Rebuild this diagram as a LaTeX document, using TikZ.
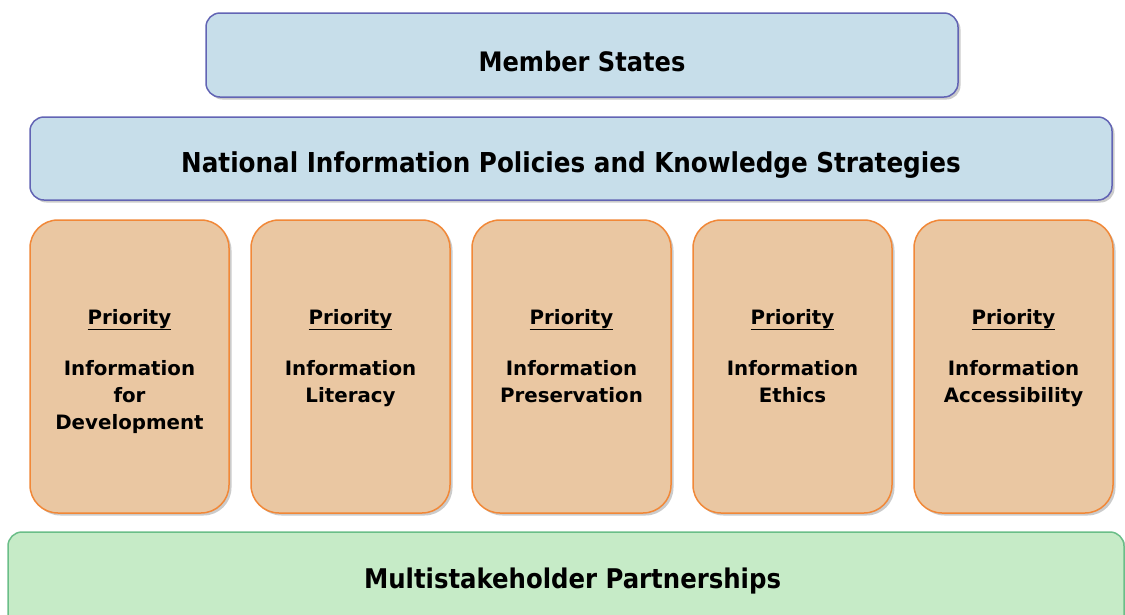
\documentclass[tikz,border=0pt]{standalone}
\usepackage{fontspec}
\setmainfont{DejaVu Sans}
\newfontfamily\bigfont{DejaVu Sans Condensed}
\usetikzlibrary{shadows,calc}
\definecolor{bluefill}{RGB}{199,222,234}
\definecolor{blueline}{RGB}{98,100,180}
\definecolor{orangefill}{RGB}{234,199,162}
\definecolor{orangeline}{RGB}{241,136,56}
\definecolor{greenfill}{RGB}{198,235,199}
\definecolor{greenline}{RGB}{106,190,136}
\tikzset{
  boxshadow/.style={drop shadow={shadow xshift=2.5pt,shadow yshift=-2.5pt,fill=black!45,opacity=.45}},
  bluebox/.style={draw=blueline,fill=bluefill,line width=1.5pt,rounded corners=14pt,boxshadow,inner sep=0pt},
  prbox/.style={draw=orangeline,fill=orangefill,line width=1.5pt,rounded corners=28pt,boxshadow,inner sep=0pt,minimum width=199pt,minimum height=293pt},
  greenbox/.style={draw=greenline,fill=greenfill,line width=1.5pt,rounded corners=14pt,boxshadow,inner sep=0pt},
  bigtext/.style={font=\bigfont\bfseries\fontsize{26.8}{30}\selectfont,inner sep=0pt},
  prtitle/.style={font=\bfseries\fontsize{19.8}{27}\selectfont,inner sep=0pt,anchor=base},
  prbody/.style={font=\bfseries\fontsize{19.8}{27}\selectfont,inner sep=0pt,anchor=north,align=center},
}
\begin{document}
\begin{tikzpicture}[x=1pt,y=-1pt]
\useasboundingbox (0,0) rectangle (1125,614);
\clip (0,0) rectangle (1125,614);
\fill[white] (0,0) rectangle (1125,614);
% top boxes
\node[bluebox,minimum width=752pt,minimum height=84pt] (ms) at (582,55) {};
\node[bigtext] (mst) at ($(ms.center)+(0,6.5)$) {Member States};
\node[bluebox,minimum width=1082pt,minimum height=83pt] (nip) at (571,158.5) {};
\node[bigtext,font=\bigfont\bfseries\fontsize{27.4}{30}\selectfont] (nipt) at ($(nip.center)+(0,7)$) {National Information Policies and Knowledge Strategies};
% priority boxes
\node[prbox] (p1) at (129.5,366.5) {};
\node[prbox] (p2) at (350.5,366.5) {};
\node[prbox] (p3) at (571.5,366.5) {};
\node[prbox] (p4) at (792.5,366.5) {};
\node[prbox] (p5) at (1013.5,366.5) {};
\foreach \b in {p1,p2,p3,p4,p5}{
  \node[prtitle] (\b t) at (\b.center |- 0,324) {\underline{Priority}};
}
\node[prbody] (p1b) at (p1.center |- 0,360) {Information\\for\\Development};
\node[prbody] (p2b) at (p2.center |- 0,360) {Information\\Literacy};
\node[prbody] (p3b) at (p3.center |- 0,360) {Information\\Preservation};
\node[prbody] (p4b) at (p4.center |- 0,360) {Information\\Ethics};
\node[prbody] (p5b) at (p5.center |- 0,360) {Information\\Accessibility};
% bottom box
\node[greenbox,minimum width=1116pt,minimum height=110pt] (msp) at (566,587) {};
\node[bigtext,font=\bigfont\bfseries\fontsize{27.1}{30}\selectfont] (mspt) at (572.5,581.5) {Multistakeholder Partnerships};
\end{tikzpicture}
\end{document}
